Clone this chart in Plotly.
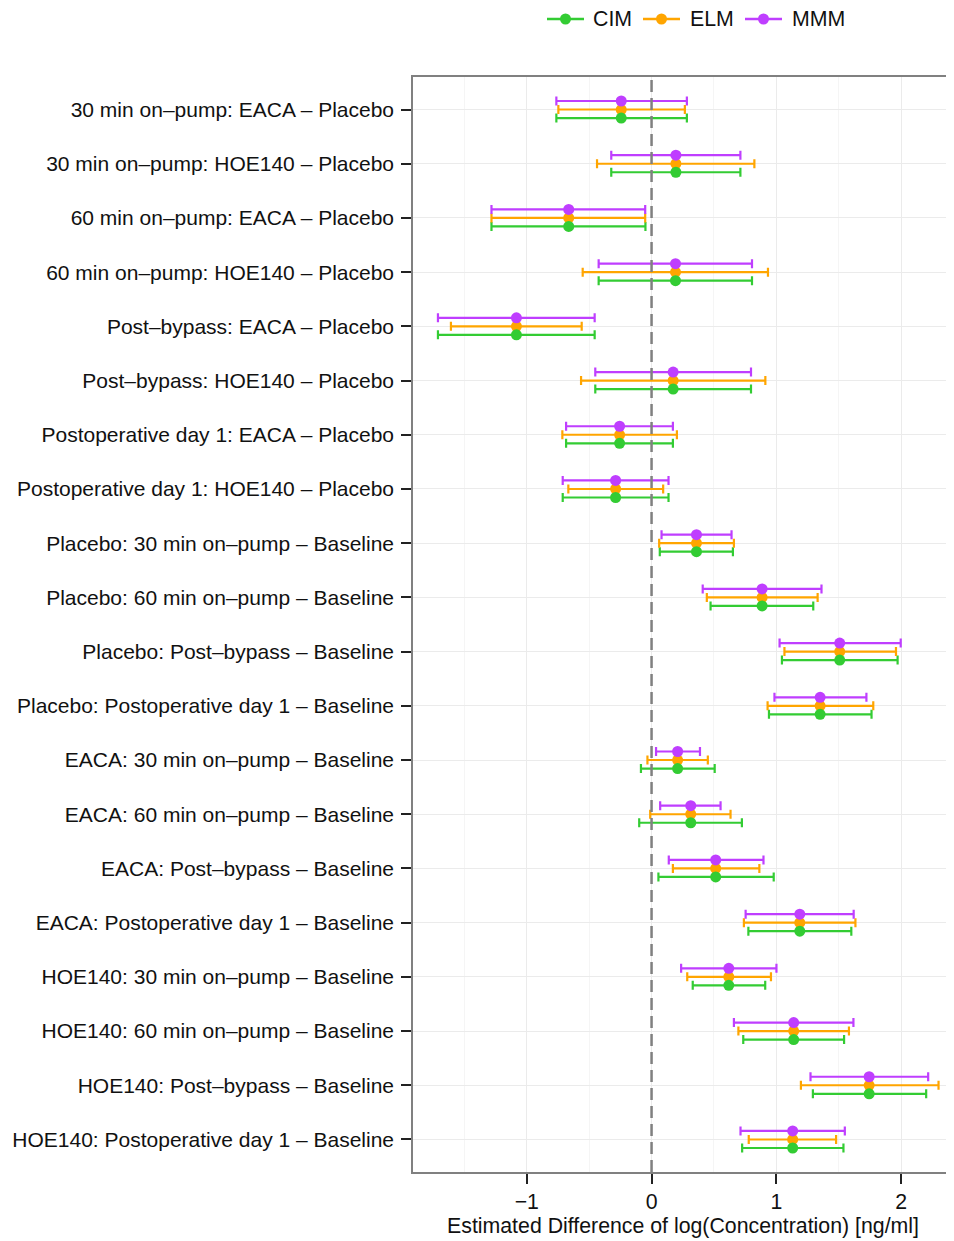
import plotly.graph_objects as go

categories = [
    "30 min on–pump: EACA – Placebo",
    "30 min on–pump: HOE140 – Placebo",
    "60 min on–pump: EACA – Placebo",
    "60 min on–pump: HOE140 – Placebo",
    "Post–bypass: EACA – Placebo",
    "Post–bypass: HOE140 – Placebo",
    "Postoperative day 1: EACA – Placebo",
    "Postoperative day 1: HOE140 – Placebo",
    "Placebo: 30 min on–pump – Baseline",
    "Placebo: 60 min on–pump – Baseline",
    "Placebo: Post–bypass – Baseline",
    "Placebo: Postoperative day 1 – Baseline",
    "EACA: 30 min on–pump – Baseline",
    "EACA: 60 min on–pump – Baseline",
    "EACA: Post–bypass – Baseline",
    "EACA: Postoperative day 1 – Baseline",
    "HOE140: 30 min on–pump – Baseline",
    "HOE140: 60 min on–pump – Baseline",
    "HOE140: Post–bypass – Baseline",
    "HOE140: Postoperative day 1 – Baseline",
]

estimate = [-0.243, 0.195, -0.664, 0.192, -1.083, 0.173, -0.256, -0.288,
            0.360, 0.886, 1.508, 1.351, 0.209, 0.314, 0.514, 1.188,
            0.619, 1.139, 1.744, 1.131]

cim_lo = [-0.763, -0.323, -1.283, -0.424, -1.712, -0.451, -0.685, -0.712,
          0.066, 0.473, 1.045, 0.941, -0.085, -0.099, 0.055, 0.776,
          0.330, 0.735, 1.293, 0.726]
cim_hi = [0.283, 0.712, -0.049, 0.805, -0.456, 0.797, 0.171, 0.136,
          0.652, 1.296, 1.972, 1.763, 0.506, 0.724, 0.979, 1.601,
          0.911, 1.543, 2.201, 1.538]

elm_lo = [-0.747, -0.437, -1.283, -0.552, -1.608, -0.565, -0.715, -0.667,
          0.061, 0.443, 1.065, 0.930, -0.033, -0.011, 0.171, 0.740,
          0.286, 0.696, 1.197, 0.779]
elm_hi = [0.267, 0.824, -0.051, 0.933, -0.560, 0.912, 0.203, 0.093,
          0.660, 1.331, 1.959, 1.777, 0.451, 0.633, 0.864, 1.634,
          0.957, 1.582, 2.300, 1.479]

mmm_lo = [-0.763, -0.323, -1.283, -0.424, -1.712, -0.451, -0.685, -0.712,
          0.080, 0.410, 1.026, 0.985, 0.036, 0.069, 0.138, 0.754,
          0.237, 0.660, 1.274, 0.713]
mmm_hi = [0.283, 0.712, -0.051, 0.805, -0.456, 0.797, 0.171, 0.136,
          0.641, 1.362, 1.997, 1.722, 0.388, 0.553, 0.897, 1.620,
          1.001, 1.618, 2.217, 1.549]

series_names = ["CIM", "ELM", "MMM"]
series_colors = ["#33CC33", "#FFA500", "#BF3EFF"]
series_lo = [cim_lo, elm_lo, mmm_lo]
series_hi = [cim_hi, elm_hi, mmm_hi]
series_offset = [0.157, 0.0, -0.157]

xticks = [-1, 0, 1, 2]
xticklabels = ["−1", "0", "1", "2"]
xminor = [-1.5, -0.5, 0.5, 1.5]

FONT = "Liberation Sans, Arial, sans-serif"
FS = 21.3
FS_Y = 21.0

# layout geometry (figure pixels; page adds an 8px body margin)
W, H = 954, 1241
ML, MR, MT, MB = 405, 9, 69, 77
PW = W - ML - MR
PH = H - MT - MB


def px_x(sx):
    return (sx - 8 - ML) / PW


def px_y(sy):
    return (H - MB - (sy - 8)) / PH


fig = go.Figure()
pos = list(range(len(categories)))

# error bars
for name, color, lo, hi, off in zip(series_names, series_colors, series_lo, series_hi, series_offset):
    ys = [p + off for p in pos]
    fig.add_trace(go.Scatter(
        x=estimate, y=ys, mode="markers",
        marker=dict(size=1, color=color, opacity=0),
        error_x=dict(type="data", symmetric=False,
                     array=[h - e for h, e in zip(hi, estimate)],
                     arrayminus=[e - l for e, l in zip(estimate, lo)],
                     color=color, thickness=2.2, width=4.5),
        showlegend=False, hoverinfo="skip",
    ))

# points (ELM first so it sits underneath)
for idx in [1, 0, 2]:
    ys = [p + series_offset[idx] for p in pos]
    fig.add_trace(go.Scatter(
        x=estimate, y=ys, mode="markers",
        marker=dict(size=11, color=series_colors[idx]),
        showlegend=False, name=series_names[idx],
    ))

fig.add_vline(x=0, line=dict(color="#808080", width=2.5, dash="12px,6px"))

# manual legend (keys: line + dot, then label)
legend_line_x = [(547, 584), (643, 680), (745, 782)]
legend_text_x = [592, 689, 791]
ly = px_y(19)
for name, color, (a, b), tx in zip(series_names, series_colors, legend_line_x, legend_text_x):
    fig.add_shape(type="line", xref="paper", yref="paper",
                  x0=px_x(a), x1=px_x(b), y0=ly, y1=ly,
                  line=dict(color=color, width=2.5))
    cx = px_x((a + b) / 2)
    fig.add_shape(type="circle", xref="paper", yref="paper",
                  xsizemode="pixel", ysizemode="pixel",
                  xanchor=cx, yanchor=ly, x0=-5.5, x1=5.5, y0=-5.5, y1=5.5,
                  fillcolor=color, line=dict(color=color, width=0))
    fig.add_annotation(text=name, xref="paper", yref="paper",
                       x=px_x(tx), y=ly, xanchor="left", yanchor="middle",
                       showarrow=False, borderpad=0,
                       font=dict(size=FS, family=FONT, color="#111111"))

fig.update_layout(
    width=W, height=H,
    margin=dict(l=ML, r=MR, t=MT, b=MB),
    paper_bgcolor="white", plot_bgcolor="white",
    font=dict(family=FONT, size=FS, color="#111111"),
    showlegend=False,
)

fig.update_xaxes(
    range=[-1.912, 2.416], automargin=False,
    tickvals=xticks, ticktext=xticklabels,
    ticks="outside", ticklen=10, tickwidth=2, tickcolor="#222222",
    showgrid=True, gridcolor="#EBEBEB", gridwidth=1.2,
    minor=dict(tickvals=xminor, showgrid=True, gridcolor="#F5F5F5", gridwidth=1, ticks=""),
    showline=True, linecolor="#808080", linewidth=1.5, mirror=True,
    zeroline=False,
    tickfont=dict(size=FS, family=FONT, color="#111111"),
    title=dict(text="Estimated Difference of log(Concentration) [ng/ml]",
               font=dict(size=FS, family=FONT, color="#111111"), standoff=2),
)

fig.update_yaxes(
    range=[len(categories) - 0.4, -0.6], automargin=False,
    tickvals=pos, ticktext=categories,
    ticks="outside", ticklen=10, tickwidth=2, tickcolor="#222222",
    ticklabelstandoff=3,
    showgrid=True, gridcolor="#EBEBEB", gridwidth=1.2,
    showline=True, linecolor="#808080", linewidth=1.5, mirror=True,
    zeroline=False,
    tickfont=dict(size=FS_Y, family=FONT, color="#111111"),
)

fig.write_html("out.html")
